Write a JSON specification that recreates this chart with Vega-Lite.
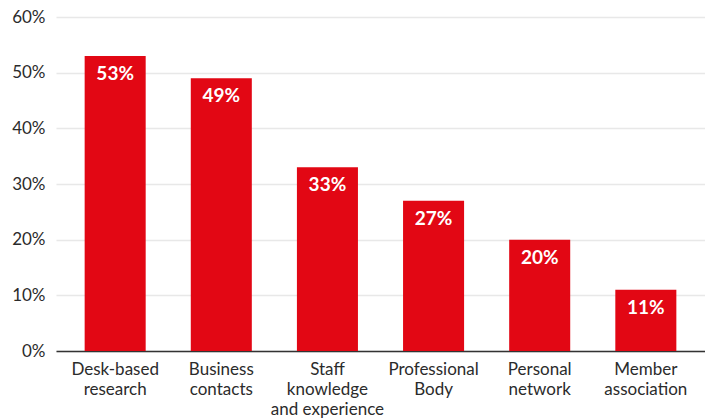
{
  "$schema": "https://vega.github.io/schema/vega-lite/v6.json",
  "width": 649,
  "height": 334,
  "autosize": {"type": "none"},
  "padding": {"left": 56, "top": 17, "right": 0, "bottom": 69},
  "background": "white",
  "config": {"view": {"stroke": null}, "font": "Lato"},
  "data": {
    "values": [
      {"source": "Desk-based research", "share": 0.53},
      {"source": "Business contacts", "share": 0.49},
      {"source": "Staff knowledge and experience", "share": 0.33},
      {"source": "Professional Body", "share": 0.27},
      {"source": "Personal network", "share": 0.20},
      {"source": "Member association", "share": 0.11}
    ]
  },
  "encoding": {
    "x": {
      "field": "source",
      "type": "nominal",
      "sort": null,
      "scale": {"paddingInner": 0.425, "paddingOuter": 0.27},
      "axis": {
        "title": null,
        "labelAngle": 0,
        "ticks": false,
        "domainColor": "#333333",
        "domainWidth": 1.5,
        "labelFont": "Lato",
        "labelFontSize": 17,
        "labelColor": "#2b2b2b",
        "labelPadding": 10,
        "labelLineHeight": 20,
        "labelBaseline": "top",
        "labelOverlap": false,
        "labelExpr": "datum.value == 'Desk-based research' ? ['Desk-based','research'] : datum.value == 'Business contacts' ? ['Business','contacts'] : datum.value == 'Staff knowledge and experience' ? ['Staff','knowledge','and experience'] : datum.value == 'Professional Body' ? ['Professional','Body'] : datum.value == 'Personal network' ? ['Personal','network'] : ['Member','association']"
      }
    },
    "y": {
      "field": "share",
      "type": "quantitative",
      "scale": {"domain": [0, 0.6]},
      "axis": {
        "title": null,
        "format": ".0%",
        "values": [0, 0.1, 0.2, 0.3, 0.4, 0.5, 0.6],
        "labelOverlap": false,
        "domain": false,
        "ticks": false,
        "gridColor": "#e8e8e8",
        "gridWidth": 1.5,
        "labelFont": "Lato",
        "labelFontSize": 17,
        "labelColor": "#2b2b2b",
        "labelPadding": 11
      }
    }
  },
  "layer": [
    {"mark": {"type": "bar", "color": "#E20714"}},
    {
      "mark": {
        "type": "text",
        "color": "white",
        "fontWeight": "bold",
        "fontSize": 19,
        "baseline": "middle",
        "dy": 18
      },
      "encoding": {"text": {"field": "share", "type": "quantitative", "format": ".0%"}}
    }
  ]
}
